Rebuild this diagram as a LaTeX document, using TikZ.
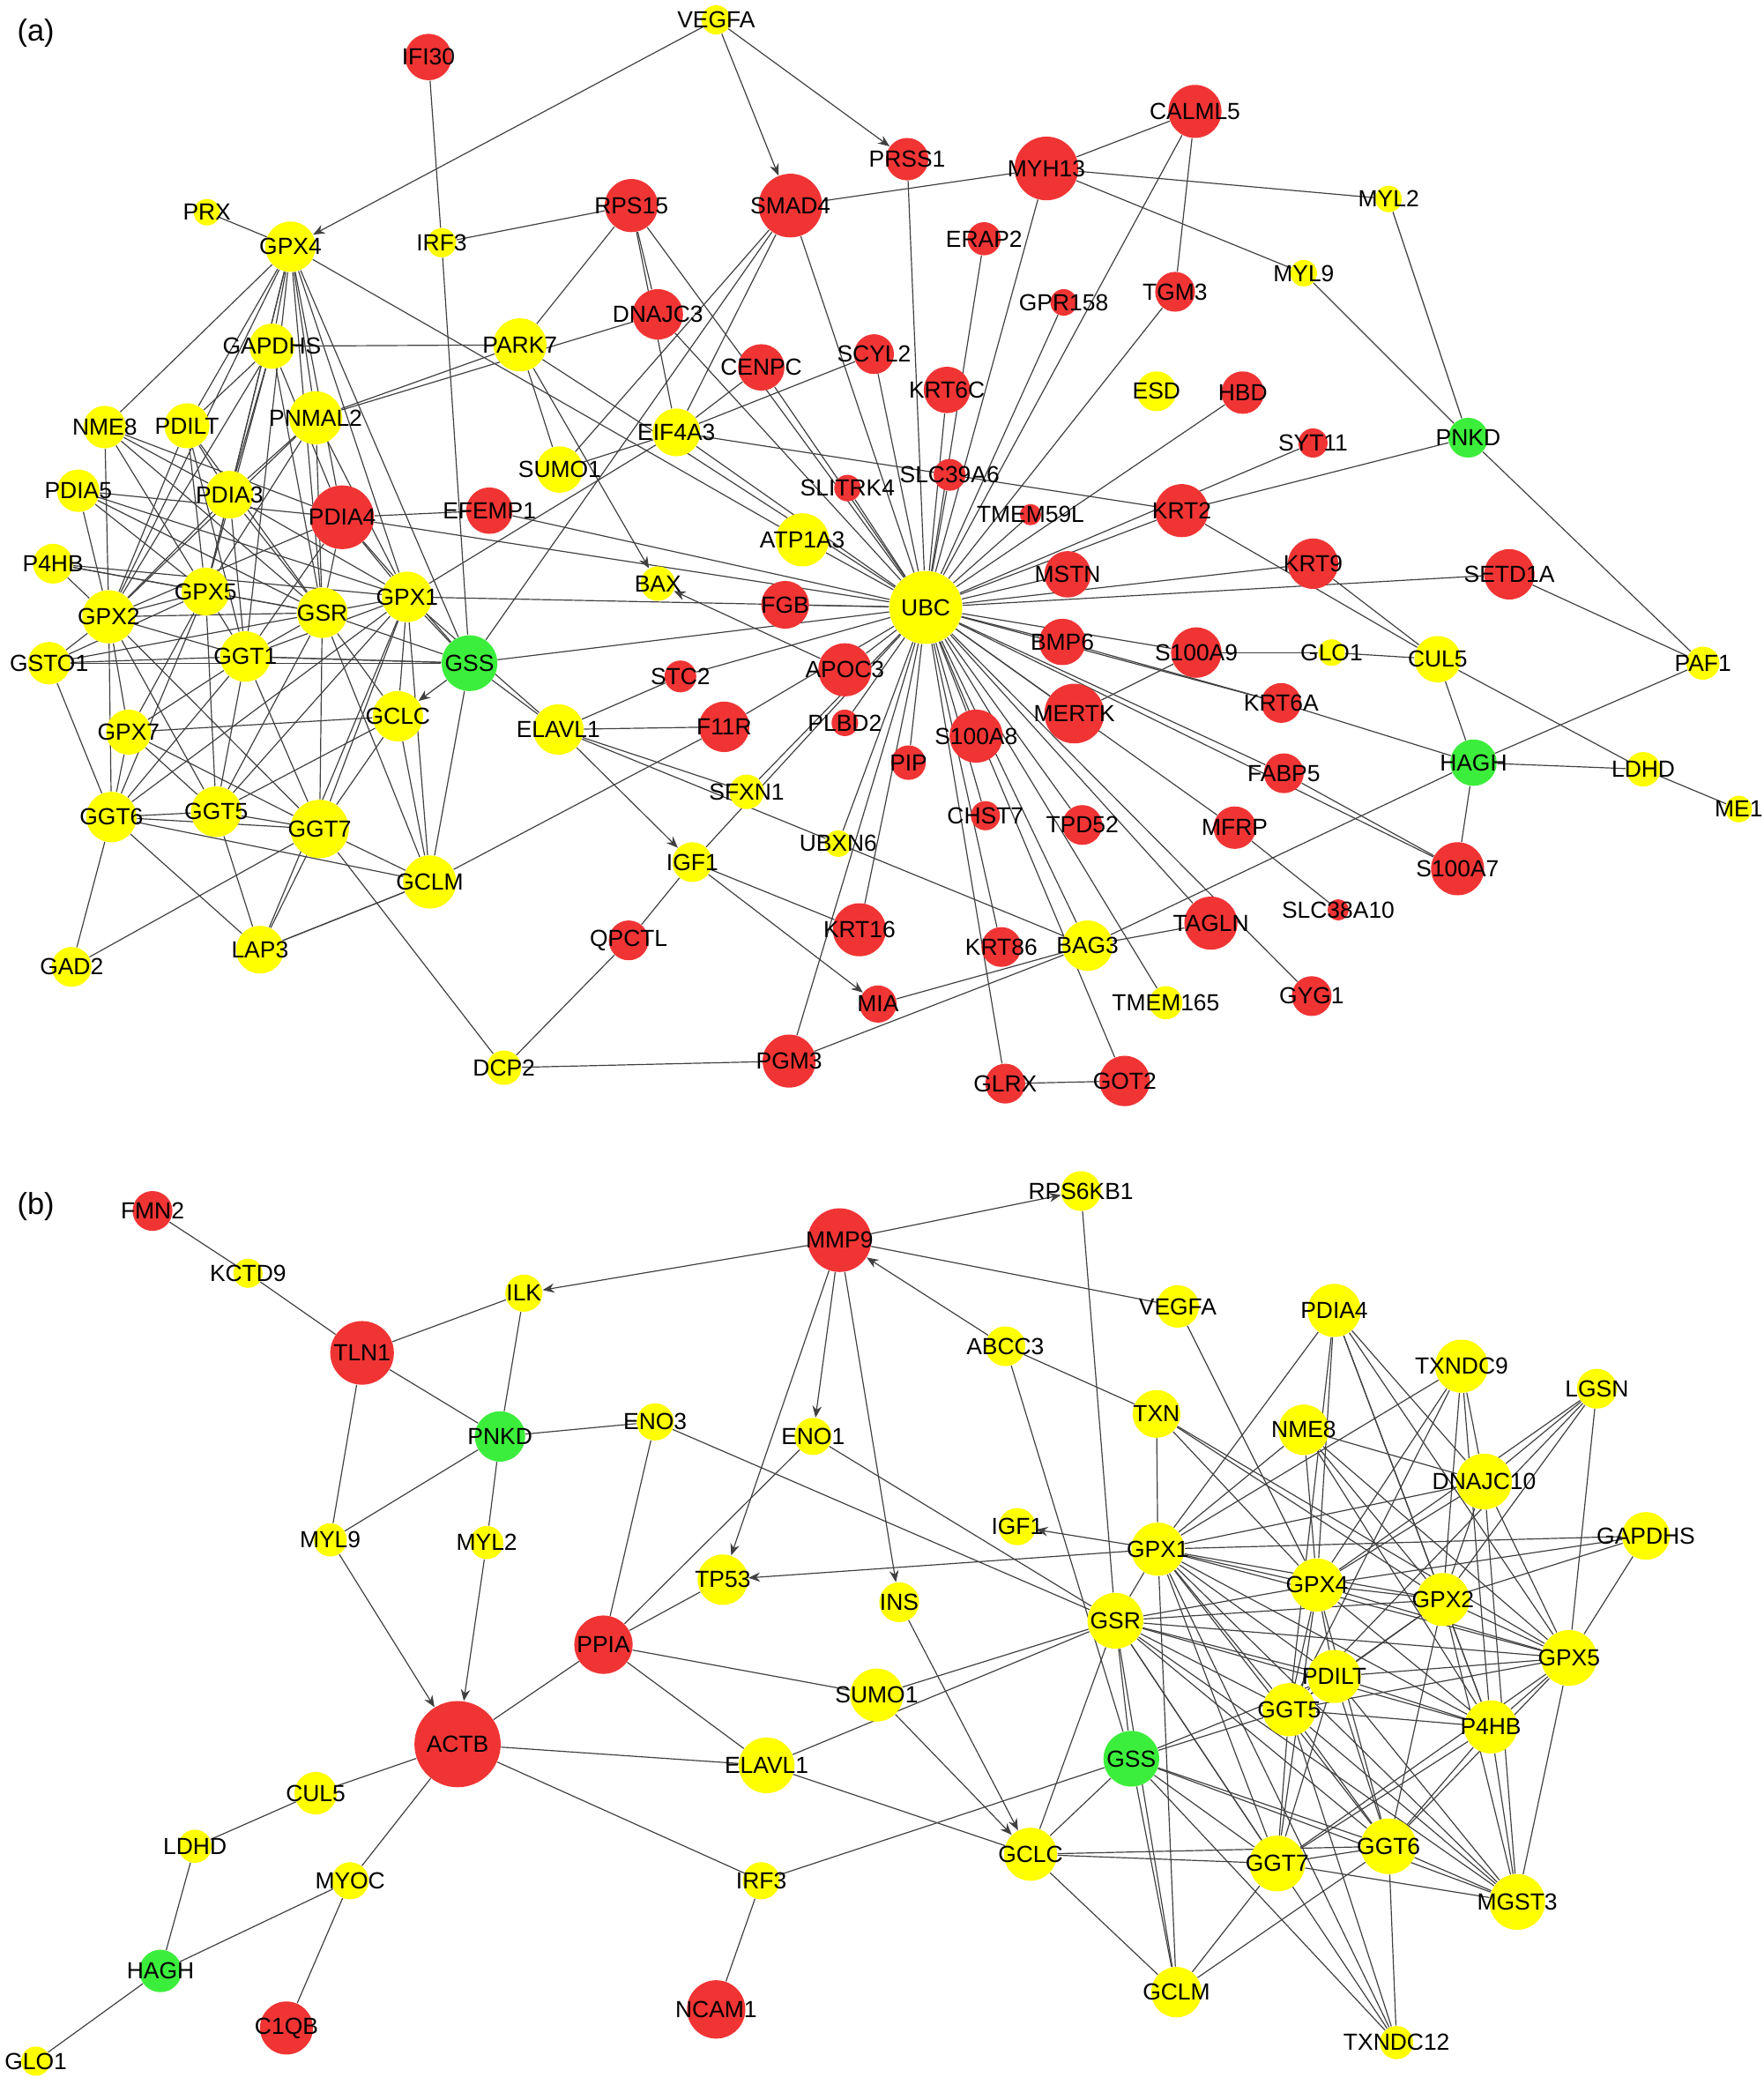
\documentclass[tikz,border=0pt]{standalone}
\usepackage{fontspec}
\setmainfont{Liberation Sans}
\usetikzlibrary{arrows.meta,backgrounds}
\definecolor{upred}{HTML}{F03434}
\definecolor{midyel}{HTML}{FFFF00}
\definecolor{dngreen}{HTML}{3CEE3C}
\tikzset{
  gene/.style={circle,inner sep=0pt,minimum size=#1*0.02cm,
    label distance=0pt,every label/.style={font=\fontsize{7.5}{8}\selectfont\bfseries,inner sep=0pt}},
  link/.style={draw=black!75,line width=0.45pt},
  act/.style={link,-{Stealth[length=5pt,width=4pt]}}
}
\begin{document}
\begin{tikzpicture}[x=0.02cm,y=-0.02cm]
\useasboundingbox (0,0) rectangle (1330,1572);
\node[font=\fontsize{13}{14}\selectfont] (lba) at (27,25) {(a)};
\node[font=\fontsize{13}{14}\selectfont] (lbb) at (27,910) {(b)};
% panel (a) genes
\foreach \n/\x/\y/\d/\c in {VEGFA/540/15/22/midyel,IFI30/323/43/35/upred,PRSS1/684/120/32/upred,
 SMAD4/596/155/48/upred,MYH13/789/127/48/upred,CALML5/901/84/40/upred,MYL2/1047/150/20/midyel,
 PRX/156/160/20/midyel,GPX4/219/186/38/midyel,IRF3/333/183/22/midyel,RPS15/476/155/40/upred,
 ERAP2/742/180/25/upred,MYL9/983/206/20/midyel,GPR158/802/228/20/upred,TGM3/886/220/30/upred,
 DNAJC3/496/237/38/upred,GAPDHS/205/261/34/midyel,PARK7/392/260/40/midyel,SCYL2/659/267/30/upred,
 CENPC/574/277/35/upred,KRT6C/714/294/35/upred,ESD/872/295/30/midyel,HBD/937/296/32/upred,
 NME8/79/322/32/midyel,PDILT/141/321/34/midyel,PNMAL2/238/315/40/midyel,EIF4A3/510/326/36/midyel,
 PNKD/1107/330/30/dngreen,SYT11/990/334/22/upred,SUMO1/422/354/35/midyel,SLC39A6/716/358/24/upred,
 SLITRK4/639/368/20/upred,PDIA5/59/370/32/midyel,PDIA3/173/373/36/midyel,PDIA4/258/390/48/upred,
 EFEMP1/369/385/35/upred,TMEM59L/777/388/16/upred,KRT2/891/385/40/upred,ATP1A3/605/407/40/midyel,
 P4HB/40/425/30/midyel,KRT9/990/425/38/upred,SETD1A/1138/433/38/upred,MSTN/805/433/35/upred,
 BAX/496/440/26/midyel,GPX5/155/446/36/midyel,GPX2/82/465/40/midyel,GSR/243/462/38/midyel,
 GPX1/307/450/38/midyel,FGB/592/456/36/upred,UBC/698/458/55/midyel,BMP6/801/484/35/upred,
 S100A9/902/492/38/upred,GLO1/1004/492/20/midyel,CUL5/1084/497/35/midyel,PAF1/1284/500/25/midyel,
 GSS/354/500/42/dngreen,STC2/513/510/24/upred,APOC3/637/505/40/upred,KRT6A/966/530/30/upred,
 GSTO1/37/500/32/midyel,GGT1/185/495/38/midyel,MERTK/810/538/45/upred,GCLC/300/540/38/midyel,
 ELAVL1/421/550/38/midyel,F11R/546/548/38/upred,PLBD2/637/545/20/upred,GPX7/97/552/34/midyel,
 HAGH/1111/575/35/dngreen,LDHD/1239/580/26/midyel,FABP5/968/583/30/upred,S100A8/736/555/40/upred,
 PIP/685/575/26/upred,SFXN1/563/597/26/midyel,ME1/1311/610/20/midyel,GGT6/84/616/38/midyel,
 GGT5/163/612/38/midyel,GGT7/241/625/44/midyel,CHST7/743/615/22/upred,TPD52/816/622/30/upred,
 MFRP/931/624/32/upred,UBXN6/632/636/20/midyel,IGF1/522/650/30/midyel,GCLM/324/665/40/midyel,
 S100A7/1099/655/40/upred,SLC38A10/1009/686/16/upred,KRT16/648/701/40/upred,QPCTL/474/709/30/upred,
 TAGLN/913/696/40/upred,GAD2/54/729/30/midyel,LAP3/196/716/36/midyel,KRT86/755/714/30/upred,
 BAG3/820/713/38/midyel,TMEM165/879/756/25/midyel,MIA/662/757/28/upred,GYG1/989/751/30/upred,
 GLRX/758/817/30/upred,GOT2/848/815/38/upred,PGM3/595/800/40/upred,DCP2/380/805/26/midyel}
  \node[gene=\d,fill=\c,label={center:\n}] (a\n) at (\x,\y) {};
% panel (b) genes
\foreach \n/\x/\y/\d/\c in {FMN2/115/913/30/upred,KCTD9/187/960/22/midyel,MMP9/633/935/48/upred,
 RPS6KB1/815/898/30/midyel,ILK/395/975/28/midyel,VEGFA/888/985/32/midyel,TLN1/273/1020/48/upred,
 ABCC3/758/1015/30/midyel,PDIA4/1006/988/40/midyel,TXNDC9/1102/1030/40/midyel,LGSN/1204/1047/30/midyel,
 PNKD/377/1083/38/dngreen,ENO3/494/1072/28/midyel,ENO1/613/1083/28/midyel,TXN/872/1066/36/midyel,
 NME8/983/1078/38/midyel,DNAJC10/1119/1117/42/midyel,IGF1/767/1151/28/midyel,GPX1/873/1168/40/midyel,
 GAPDHS/1241/1158/36/midyel,MYL9/249/1161/25/midyel,MYL2/367/1163/25/midyel,TP53/545/1191/38/midyel,
 INS/678/1208/30/midyel,GPX4/993/1195/40/midyel,GPX2/1088/1206/40/midyel,GSR/841/1222/42/midyel,
 PPIA/455/1240/44/upred,PDILT/1006/1264/40/midyel,GPX5/1183/1250/42/midyel,SUMO1/661/1278/40/midyel,
 GGT5/972/1289/40/midyel,P4HB/1124/1302/40/midyel,ACTB/345/1315/65/upred,ELAVL1/578/1331/42/midyel,
 GSS/853/1326/42/dngreen,CUL5/238/1352/32/midyel,LDHD/147/1392/25/midyel,GCLC/777/1398/40/midyel,
 GGT7/963/1405/42/midyel,GGT6/1047/1392/42/midyel,MGST3/1144/1434/42/midyel,IRF3/574/1418/28/midyel,
 MYOC/264/1418/28/midyel,HAGH/121/1486/32/dngreen,GCLM/887/1502/38/midyel,C1QB/216/1529/40/upred,
 NCAM1/540/1515/44/upred,TXNDC12/1053/1540/25/midyel,GLO1/27/1554/22/midyel}
  \node[gene=\d,fill=\c,label={center:\n}] (b\n) at (\x,\y) {};
\begin{scope}[on background layer]
% hub of panel (a)
\foreach \t in {SMAD4,MYH13,CALML5,TGM3,GPR158,ERAP2,KRT6C,SCYL2,CENPC,DNAJC3,RPS15,PRSS1,SLC39A6,
 SLITRK4,TMEM59L,HBD,KRT2,MSTN,KRT9,SETD1A,BMP6,S100A9,KRT6A,MERTK,FABP5,MFRP,S100A7,TAGLN,GYG1,
 GOT2,GLRX,KRT86,BAG3,TPD52,CHST7,S100A8,PIP,KRT16,PGM3,UBXN6,SFXN1,IGF1,PLBD2,F11R,STC2,APOC3,
 FGB,GSS,GPX1,PDIA4,EFEMP1,ATP1A3,EIF4A3,PARK7,TMEM165,SYT11}
  \draw[link] (aUBC) -- (a\t);
\foreach \s/\t in {IFI30/IRF3,IRF3/RPS15,IRF3/GSS,MYH13/SMAD4,MYH13/MYL2,MYH13/MYL9,CALML5/MYH13,
 CALML5/TGM3,MYL2/PNKD,MYL9/PNKD,PNKD/KRT2,PNKD/PAF1,PRX/GPX4,RPS15/PARK7,RPS15/DNAJC3,RPS15/EIF4A3,
 SMAD4/EIF4A3,SMAD4/SUMO1,SMAD4/GSS,DNAJC3/PNMAL2,PARK7/GAPDHS,PARK7/SUMO1,EIF4A3/KRT2,EIF4A3/CENPC,
 EIF4A3/SCYL2,EIF4A3/GPX1,EIF4A3/SUMO1,GPX4/ATP1A3,GPX4/GSS,KRT2/CUL5,KRT9/CUL5,SETD1A/PAF1,
 S100A9/MERTK,BMP6/KRT6A,S100A9/GLO1,GLO1/CUL5,CUL5/HAGH,CUL5/LDHD,HAGH/LDHD,LDHD/ME1,HAGH/BAG3,
 HAGH/PAF1,HAGH/S100A7,KRT6A/HAGH,FABP5/S100A7,MFRP/SLC38A10,BAG3/MIA,BAG3/PGM3,BAG3/TAGLN,
 UBXN6/BAG3,ELAVL1/GSS,ELAVL1/GPX1,ELAVL1/F11R,ELAVL1/SFXN1,ELAVL1/UBXN6,ELAVL1/STC2,IGF1/KRT16,
 IGF1/QPCTL,QPCTL/DCP2,DCP2/PGM3,DCP2/GGT7,GLRX/GOT2,GCLM/F11R,GCLM/LAP3,GSS/GCLM,GSS/GGT1,GSS/GSR,
 GSS/PDIA4,PDIA4/EFEMP1,PNMAL2/PARK7}
  \draw[link] (a\s) -- (a\t);
\foreach \s/\t in {VEGFA/GPX4,VEGFA/SMAD4,VEGFA/PRSS1,PARK7/BAX,APOC3/BAX,ELAVL1/IGF1,IGF1/MIA,GSS/GCLC}
  \draw[act] (a\s) -- (a\t);
% left cluster of panel (a)
\foreach \s/\t in {GPX4/GAPDHS,GPX4/PNMAL2,GPX4/PDILT,GPX4/NME8,GPX4/PDIA3,GPX4/PDIA4,GPX4/GPX5,
 GPX4/GPX2,GPX4/GSR,GPX4/GPX1,GPX4/GGT1,GAPDHS/PDILT,GAPDHS/PDIA3,GAPDHS/GPX2,GAPDHS/GPX5,GAPDHS/GSR,
 GAPDHS/PDIA4,PNMAL2/PDIA3,PNMAL2/GPX5,PNMAL2/GSR,PNMAL2/GPX2,PNMAL2/GPX1,PDILT/GPX2,PDILT/GPX5,
 PDILT/PDIA3,PDILT/GSR,PDILT/GGT1,NME8/PDIA3,NME8/GPX2,NME8/GPX5,NME8/GSR,NME8/PDIA4,PDIA5/GPX5,
 PDIA5/GPX2,PDIA5/GSR,PDIA5/PDIA4,PDIA5/GPX1,PDIA3/GPX2,PDIA3/GPX5,PDIA3/GSR,PDIA3/GPX1,PDIA3/GGT1,
 PDIA4/GSR,PDIA4/GPX1,PDIA4/GPX2,PDIA4/GGT1,P4HB/GPX2,P4HB/GPX5,P4HB/GSR,P4HB/GPX1,GPX5/GPX2,
 GPX5/GSR,GPX5/GGT1,GPX5/GGT6,GPX5/GGT5,GPX5/GPX7,GPX5/GSTO1,GPX2/GSTO1,GPX2/GPX7,GPX2/GGT6,
 GPX2/GGT5,GPX2/GGT7,GPX2/GSR,GPX2/GGT1,GSR/GGT1,GSR/GPX1,GSR/GGT7,GSR/GCLC,GSR/GCLM,GSR/GGT5,
 GSR/GSTO1,GPX1/GGT1,GPX1/GGT7,GPX1/GGT5,GPX1/GCLC,GPX1/GCLM,GPX1/LAP3,GPX1/GSS,GPX1/GGT6,
 GSTO1/GGT6,GSTO1/GSS,GSTO1/GGT1,GGT1/GPX7,GGT1/GGT6,GGT1/GGT5,GGT1/GGT7,GGT1/GSS,GPX7/GGT6,
 GPX7/GGT5,GPX7/GGT7,GPX7/GCLC,GGT6/GGT5,GGT6/GGT7,GGT6/GAD2,GGT6/LAP3,GGT6/GCLM,GGT5/GGT7,
 GGT5/LAP3,GGT5/GCLC,GGT7/LAP3,GGT7/GCLC,GGT7/GCLM,GGT7/GAD2,GCLC/GCLM,LAP3/GCLM}
  \draw[link] (a\s) -- (a\t);
% panel (b)
\foreach \s/\t in {FMN2/KCTD9,KCTD9/TLN1,TLN1/ILK,TLN1/PNKD,TLN1/MYL9,ILK/PNKD,MMP9/VEGFA,
 ABCC3/TXN,ABCC3/GSS,PNKD/ENO3,PNKD/MYL9,PNKD/MYL2,ENO3/PPIA,ENO3/GSR,ENO1/PPIA,ENO1/GSR,PPIA/ACTB,
 PPIA/TP53,PPIA/SUMO1,PPIA/ELAVL1,ACTB/ELAVL1,ACTB/CUL5,ACTB/MYOC,ACTB/IRF3,CUL5/LDHD,LDHD/HAGH,
 HAGH/MYOC,HAGH/GLO1,MYOC/C1QB,IRF3/NCAM1,IRF3/GSS,SUMO1/GSR,ELAVL1/GCLC,ELAVL1/GSR,RPS6KB1/GSR,
 VEGFA/GPX4,GCLC/GSS,GCLC/GGT7,GCLC/GSR,GCLC/GGT6,GCLC/GCLM}
  \draw[link] (b\s) -- (b\t);
\foreach \s/\t in {MMP9/ILK,MMP9/RPS6KB1,MMP9/ENO1,MMP9/TP53,MMP9/INS,ABCC3/MMP9,MYL9/ACTB,
 MYL2/ACTB,GPX1/TP53,GPX1/IGF1,SUMO1/GCLC,INS/GCLC}
  \draw[act] (b\s) -- (b\t);
\foreach \s/\t in {GPX1/TXN,GPX1/NME8,GPX1/PDIA4,GPX1/TXNDC9,GPX1/DNAJC10,GPX1/GAPDHS,GPX1/GPX4,
 GPX1/GPX2,GPX1/GPX5,GPX1/PDILT,GPX1/GGT5,GPX1/P4HB,GPX1/GGT7,GPX1/GGT6,GPX1/MGST3,GPX1/GCLM,
 GPX1/TXNDC12,GPX1/GSR,GSR/GPX4,GSR/GPX2,GSR/PDILT,GSR/GGT5,GSR/P4HB,GSR/GGT7,GSR/GGT6,GSR/MGST3,
 GSR/GSS,GSR/GCLM,GSR/TXNDC12,GSR/GPX5,GSS/GGT5,GSS/GGT7,GSS/GGT6,GSS/MGST3,GSS/GCLM,GSS/PDILT,
 GSS/TXNDC12,TXN/GPX4,TXN/GPX2,TXN/GPX5,NME8/GPX4,NME8/GPX2,NME8/GPX5,NME8/P4HB,NME8/DNAJC10,
 PDIA4/GPX4,PDIA4/GPX2,PDIA4/GPX5,PDIA4/GGT5,PDIA4/P4HB,PDIA4/DNAJC10,TXNDC9/GPX4,TXNDC9/GPX2,
 TXNDC9/P4HB,TXNDC9/GGT5,TXNDC9/DNAJC10,LGSN/GPX4,LGSN/GPX2,LGSN/GPX5,LGSN/DNAJC10,LGSN/GGT5,
 DNAJC10/GPX4,DNAJC10/GPX2,DNAJC10/GPX5,DNAJC10/MGST3,GAPDHS/GPX4,GAPDHS/GPX2,GAPDHS/GPX5,
 GPX4/GPX2,GPX4/PDILT,GPX4/GGT5,GPX4/P4HB,GPX4/GGT7,GPX4/GGT6,GPX4/GPX5,GPX2/PDILT,GPX2/GGT5,
 GPX2/P4HB,GPX2/GGT6,GPX2/GPX5,GPX2/MGST3,PDILT/GGT5,PDILT/P4HB,PDILT/GGT7,PDILT/GGT6,PDILT/MGST3,
 PDILT/GPX5,GPX5/GGT5,GPX5/P4HB,GPX5/MGST3,GPX5/GGT6,GPX5/GGT7,GGT5/P4HB,GGT5/GGT7,GGT5/GGT6,
 GGT5/MGST3,GGT5/TXNDC12,P4HB/GGT6,P4HB/GGT7,P4HB/MGST3,GGT7/GGT6,GGT7/GCLM,GGT7/MGST3,
 GGT6/MGST3,GGT6/TXNDC12,GGT6/GCLM}
  \draw[link] (b\s) -- (b\t);
\end{scope}
\end{tikzpicture}
\end{document}
